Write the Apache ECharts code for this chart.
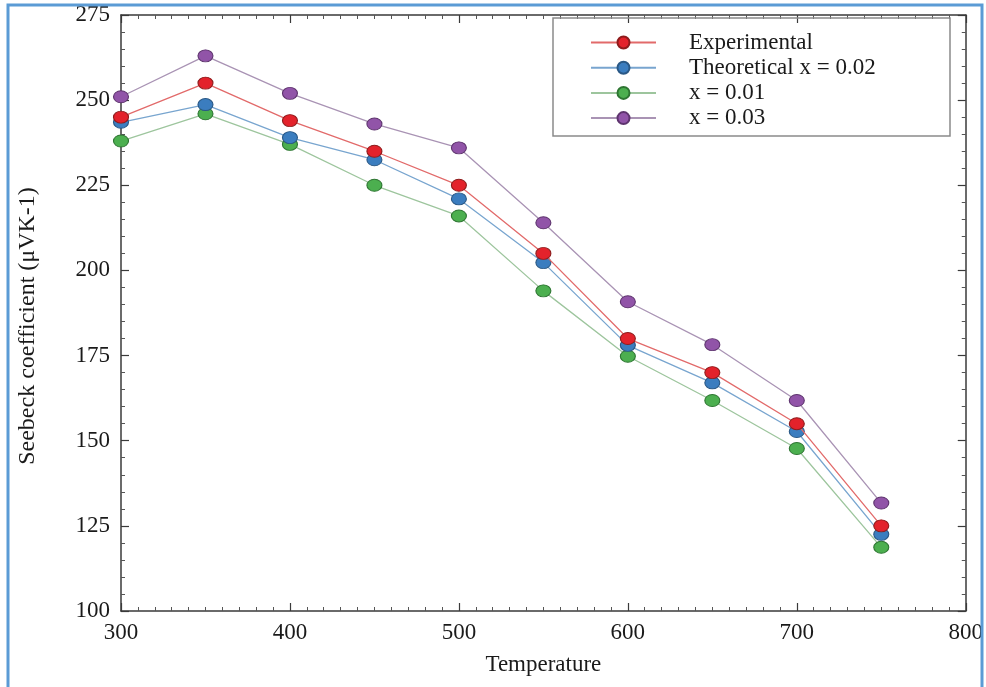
<!DOCTYPE html>
<html>
<head>
<meta charset="utf-8">
<script src="https://cdn.jsdelivr.net/npm/echarts@6/dist/echarts.min.js"></script>
<style>
html,body{margin:0;padding:0;background:#fff;}
#chart{width:986px;height:687px;}
</style>
</head>
<body>
<div id="chart"></div>
<script>
const temperatures = [300, 350, 400, 450, 500, 550, 600, 650, 700, 750];
const experimental = [245, 255, 244, 235, 225, 205, 180, 170, 155, 125];
const theoretical002 = [243.5, 248.7, 239, 232.5, 221, 202.3, 178, 167, 152.7, 122.5];
const x001 = [238, 246, 237, 225, 216, 194, 174.8, 161.8, 147.7, 118.7];
const x003 = [251, 263, 252, 243, 236, 214, 190.8, 178.2, 161.8, 131.7];
const seriesNames = ['Experimental', 'Theoretical x = 0.02', 'x = 0.01', 'x = 0.03'];
const xTicks = [300, 400, 500, 600, 700, 800];
const yTicks = [100, 125, 150, 175, 200, 225, 250, 275];

const FONT = 'Liberation Serif';
const styles = [
  {fill: '#e3222b', border: '#8e1c1c', line: '#e26a6a'},
  {fill: '#3b7dbf', border: '#2a5885', line: '#78a5cf'},
  {fill: '#4caf4f', border: '#2e7532', line: '#9dc59d'},
  {fill: '#9154a8', border: '#5e346e', line: '#a993b4'}
];
const values = [experimental, theoretical002, x001, x003];

const chart = echarts.init(document.getElementById('chart'));
const axisLine = {show: true, lineStyle: {color: '#3a3a3a', width: 1.5}};
const tickStyle = {inside: true, length: 8, lineStyle: {color: '#3a3a3a', width: 1.2}};
const minorStyle = {show: true, length: 4, lineStyle: {color: '#555', width: 1}};

chart.setOption({
  backgroundColor: '#ffffff',
  animation: false,
  grid: {left: 121, right: 15, top: 15, bottom: 76, containLabel: false},
  legend: {
    orient: 'vertical',
    left: 585,
    top: 26,
    itemWidth: 65,
    itemHeight: 15,
    itemGap: 2.2,
    data: seriesNames,
    textStyle: {fontFamily: FONT, fontSize: 23, color: '#1a1a1a', padding: [0, 0, 0, 28]}
  },
  graphic: [
    {type: 'rect', shape: {x: 553, y: 18, width: 397, height: 118}, style: {fill: 'none', stroke: '#8a8a8a', lineWidth: 1.5}, z: 100},
    {type: 'polyline', shape: {points: [[8, 700], [8, 5], [982, 5], [982, 700]]}, style: {fill: 'none', stroke: '#5b9bd5', lineWidth: 3}, z: 100}
  ],
  xAxis: [
    {
      type: 'value', min: xTicks[0], max: xTicks[xTicks.length - 1], interval: 100,
      position: 'bottom',
      name: 'Temperature', nameLocation: 'middle', nameGap: 42,
      nameTextStyle: {fontFamily: FONT, fontSize: 23, color: '#1a1a1a'},
      axisLine: axisLine, axisTick: tickStyle,
      minorTick: Object.assign({splitNumber: 10}, minorStyle),
      splitLine: {show: false},
      axisLabel: {fontFamily: FONT, fontSize: 23, color: '#1a1a1a', margin: 10}
    },
    {
      type: 'value', min: xTicks[0], max: xTicks[xTicks.length - 1], interval: 100,
      position: 'top',
      axisLine: axisLine, axisTick: tickStyle,
      minorTick: Object.assign({splitNumber: 10}, minorStyle),
      splitLine: {show: false}, axisLabel: {show: false}
    }
  ],
  yAxis: [
    {
      type: 'value', min: yTicks[0], max: yTicks[yTicks.length - 1], interval: 25,
      position: 'left',
      name: 'Seebeck coefficient (μVK-1)', nameLocation: 'middle', nameGap: 81,
      nameTextStyle: {fontFamily: FONT, fontSize: 24, color: '#1a1a1a', padding: [0, 0, 0, -26]},
      axisLine: axisLine, axisTick: tickStyle,
      minorTick: Object.assign({splitNumber: 5}, minorStyle),
      splitLine: {show: false},
      axisLabel: {fontFamily: FONT, fontSize: 23, color: '#1a1a1a', margin: 11}
    },
    {
      type: 'value', min: yTicks[0], max: yTicks[yTicks.length - 1], interval: 25,
      position: 'right',
      axisLine: axisLine, axisTick: tickStyle,
      minorTick: Object.assign({splitNumber: 5}, minorStyle),
      splitLine: {show: false}, axisLabel: {show: false}
    }
  ],
  series: seriesNames.map((name, i) => ({
    name: name,
    type: 'line',
    xAxisIndex: 0,
    yAxisIndex: 0,
    data: temperatures.map((t, j) => [t, values[i][j]]),
    symbol: 'circle',
    symbolSize: [15, 12],
    lineStyle: {color: styles[i].line, width: 1.3},
    itemStyle: {color: styles[i].fill, borderColor: styles[i].border, borderWidth: 1},
    z: 2 + (i === 0 ? 3 : i === 1 ? 2 : 1)
  }))
});
</script>
</body>
</html>
